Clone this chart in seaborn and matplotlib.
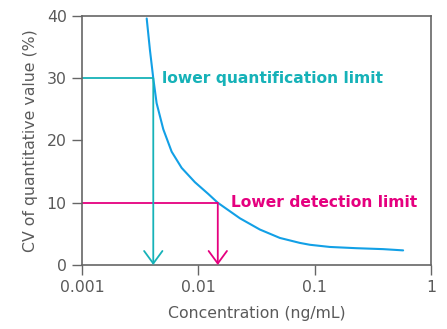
import matplotlib
matplotlib.use("Agg")
import matplotlib.pyplot as plt
import seaborn as sns
import pandas as pd

# Precision profile: CV of the quantitative value vs. concentration
concentration = [0.00360, 0.00384, 0.00410, 0.00438, 0.00500, 0.00590,
                 0.00719, 0.00935, 0.0122, 0.0147, 0.0228, 0.0338,
                 0.0502, 0.0746, 0.0910, 0.1351, 0.2291, 0.3878, 0.5759]
cv_percent = [39.6, 34.5, 30.0, 26.0, 21.8, 18.2,
              15.6, 13.3, 11.4, 10.0, 7.5, 5.7,
              4.35, 3.55, 3.25, 2.9, 2.7, 2.55, 2.35]

# Limits
loq_conc, loq_cv = 0.00410, 30.0
lod_conc, lod_cv = 0.0147, 10.0
loq_label = "lower quantification limit"
lod_label = "Lower detection limit"

x_ticks = [0.001, 0.01, 0.1, 1]
x_tick_labels = ["0.001", "0.01", "0.1", "1"]
y_ticks = [0, 10, 20, 30, 40]

curve_color = "#12a0e6"
loq_color = "#16b2b8"
lod_color = "#e5007f"
text_gray = "#5a5a5a"
spine_gray = "#666666"

sns.set_theme(style="white")
plt.rcParams["font.family"] = ["DejaVu Sans"]

fig = plt.figure(figsize=(4.47, 3.29), dpi=100)
ax = fig.add_axes([0.1834, 0.1945, 0.7808, 0.7569])

df = pd.DataFrame({"conc": concentration, "cv": cv_percent})
sns.lineplot(data=df, x="conc", y="cv", ax=ax, color=curve_color, lw=1.5)

ax.set_xscale("log")
ax.set_xlim(0.001, 1)
ax.set_ylim(0, 40)

arrow_style = "->,head_length=0.45,head_width=0.33"

# Quantification limit: horizontal guide then arrow down to the axis
ax.plot([0.001, loq_conc], [loq_cv, loq_cv], color=loq_color, lw=1.3,
        solid_capstyle="butt")
ax.annotate("", xy=(loq_conc, 0), xytext=(loq_conc, loq_cv),
            arrowprops=dict(arrowstyle=arrow_style, color=loq_color, lw=1.3,
                            shrinkA=0, shrinkB=0, mutation_scale=20))
ax.text(loq_conc * 1.2, loq_cv, loq_label, color=loq_color,
        fontsize=11.2, fontweight="bold", va="center", ha="left")

# Detection limit
ax.plot([0.001, lod_conc], [lod_cv, lod_cv], color=lod_color, lw=1.3,
        solid_capstyle="butt")
ax.annotate("", xy=(lod_conc, 0), xytext=(lod_conc, lod_cv),
            arrowprops=dict(arrowstyle=arrow_style, color=lod_color, lw=1.3,
                            shrinkA=0, shrinkB=0, mutation_scale=20))
ax.text(lod_conc * 1.3, lod_cv, lod_label, color=lod_color,
        fontsize=11.2, fontweight="bold", va="center", ha="left")

ax.set_xticks(x_ticks)
ax.set_xticklabels(x_tick_labels)
ax.set_yticks(y_ticks)
ax.minorticks_off()
ax.tick_params(axis="both", which="major", direction="out", length=7,
               width=1, color=spine_gray, labelcolor=text_gray,
               labelsize=11.3, pad=4, bottom=True, left=True)

for side in ["left", "bottom", "right", "top"]:
    ax.spines[side].set_visible(True)
    ax.spines[side].set_color(spine_gray)
    ax.spines[side].set_linewidth(1.2)

ax.set_xlabel("Concentration (ng/mL)", color=text_gray, fontsize=11.3,
              labelpad=8)
ax.set_ylabel("CV of quantitative value (%)", color=text_gray,
              fontsize=11.3, labelpad=6)

fig.savefig("out.png", dpi=100)
